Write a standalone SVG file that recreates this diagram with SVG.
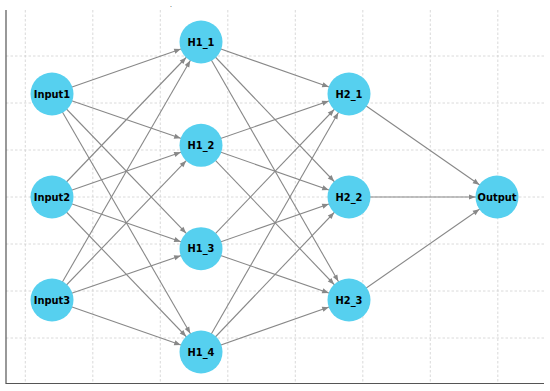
<svg xmlns="http://www.w3.org/2000/svg" width="550" height="391" viewBox="0 0 550 391">
<style>
.grid{stroke:#d0d0d0;stroke-width:0.8;stroke-dasharray:2.5,2}
.spine{stroke:#555;stroke-width:1.2;fill:none}
.edge{stroke:#888;stroke-width:1.1;fill:none;marker-end:url(#ah)}
.node circle{fill:#56d0ef}
.node text{font-family:"DejaVu Sans",sans-serif;font-weight:bold;font-size:9.9px;text-anchor:middle;dominant-baseline:central;fill:#000}
</style>
<defs>
<marker id="ah" markerUnits="userSpaceOnUse" markerWidth="40" markerHeight="40" refX="28" refY="0" orient="auto" overflow="visible">
<path d="M0,-2.6 L6.5,0 L0,2.6 z" fill="#888"/>
</marker>
</defs>
<rect width="550" height="391" fill="#fff"/>
<g id="grid">
<line class="grid" x1="25.3" y1="10" x2="25.3" y2="383"/>
<line class="grid" x1="92.8" y1="10" x2="92.8" y2="383"/>
<line class="grid" x1="160.3" y1="10" x2="160.3" y2="383"/>
<line class="grid" x1="227.8" y1="10" x2="227.8" y2="383"/>
<line class="grid" x1="295.3" y1="10" x2="295.3" y2="383"/>
<line class="grid" x1="362.8" y1="10" x2="362.8" y2="383"/>
<line class="grid" x1="430.3" y1="10" x2="430.3" y2="383"/>
<line class="grid" x1="497.8" y1="10" x2="497.8" y2="383"/>
<line class="grid" x1="6" y1="56" x2="544" y2="56"/>
<line class="grid" x1="6" y1="103" x2="544" y2="103"/>
<line class="grid" x1="6" y1="150" x2="544" y2="150"/>
<line class="grid" x1="6" y1="197" x2="544" y2="197"/>
<line class="grid" x1="6" y1="244" x2="544" y2="244"/>
<line class="grid" x1="6" y1="291" x2="544" y2="291"/>
<line class="grid" x1="6" y1="338" x2="544" y2="338"/>
</g>
<path class="spine" d="M6,10 V383.5 H544"/>
<text x="171" y="7" font-family="DejaVu Sans,sans-serif" font-size="6" text-anchor="middle" fill="#000">.</text>
<g id="connectors">
<line class="edge" x1="52" y1="94" x2="201" y2="42"/>
<line class="edge" x1="52" y1="94" x2="201" y2="145.3"/>
<line class="edge" x1="52" y1="94" x2="201" y2="248.7"/>
<line class="edge" x1="52" y1="94" x2="201" y2="352"/>
<line class="edge" x1="52" y1="197" x2="201" y2="42"/>
<line class="edge" x1="52" y1="197" x2="201" y2="145.3"/>
<line class="edge" x1="52" y1="197" x2="201" y2="248.7"/>
<line class="edge" x1="52" y1="197" x2="201" y2="352"/>
<line class="edge" x1="52" y1="300" x2="201" y2="42"/>
<line class="edge" x1="52" y1="300" x2="201" y2="145.3"/>
<line class="edge" x1="52" y1="300" x2="201" y2="248.7"/>
<line class="edge" x1="52" y1="300" x2="201" y2="352"/>
<line class="edge" x1="201" y1="42" x2="349" y2="94"/>
<line class="edge" x1="201" y1="42" x2="349" y2="197"/>
<line class="edge" x1="201" y1="42" x2="349" y2="300"/>
<line class="edge" x1="201" y1="145.3" x2="349" y2="94"/>
<line class="edge" x1="201" y1="145.3" x2="349" y2="197"/>
<line class="edge" x1="201" y1="145.3" x2="349" y2="300"/>
<line class="edge" x1="201" y1="248.7" x2="349" y2="94"/>
<line class="edge" x1="201" y1="248.7" x2="349" y2="197"/>
<line class="edge" x1="201" y1="248.7" x2="349" y2="300"/>
<line class="edge" x1="201" y1="352" x2="349" y2="94"/>
<line class="edge" x1="201" y1="352" x2="349" y2="197"/>
<line class="edge" x1="201" y1="352" x2="349" y2="300"/>
<line class="edge" x1="349" y1="94" x2="497" y2="197"/>
<line class="edge" x1="349" y1="197" x2="497" y2="197"/>
<line class="edge" x1="349" y1="300" x2="497" y2="197"/>
</g>
<g id="Input1" class="node"><circle cx="52" cy="94" r="21.5"/><text x="52" y="94">Input1</text></g>
<g id="Input2" class="node"><circle cx="52" cy="197" r="21.5"/><text x="52" y="197">Input2</text></g>
<g id="Input3" class="node"><circle cx="52" cy="300" r="21.5"/><text x="52" y="300">Input3</text></g>
<g id="H1_1" class="node"><circle cx="201" cy="42" r="21.5"/><text x="201" y="42">H1_1</text></g>
<g id="H1_2" class="node"><circle cx="201" cy="145.3" r="21.5"/><text x="201" y="145.3">H1_2</text></g>
<g id="H1_3" class="node"><circle cx="201" cy="248.7" r="21.5"/><text x="201" y="248.7">H1_3</text></g>
<g id="H1_4" class="node"><circle cx="201" cy="352" r="21.5"/><text x="201" y="352">H1_4</text></g>
<g id="H2_1" class="node"><circle cx="349" cy="94" r="21.5"/><text x="349" y="94">H2_1</text></g>
<g id="H2_2" class="node"><circle cx="349" cy="197" r="21.5"/><text x="349" y="197">H2_2</text></g>
<g id="H2_3" class="node"><circle cx="349" cy="300" r="21.5"/><text x="349" y="300">H2_3</text></g>
<g id="Output" class="node"><circle cx="497" cy="197" r="21.5"/><text x="497" y="197">Output</text></g>
</svg>
